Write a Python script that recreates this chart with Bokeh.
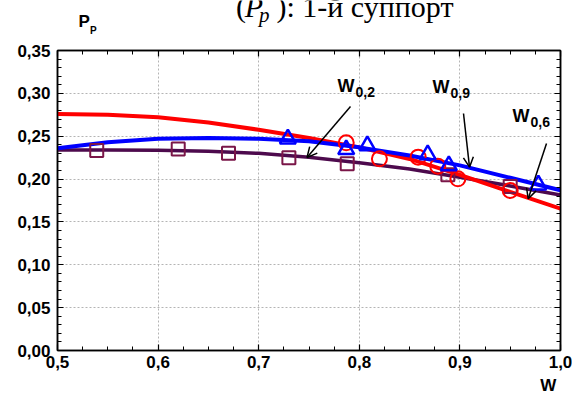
from bokeh.plotting import figure
from bokeh.models import FixedTicker, LinearAxis, Label, Arrow, OpenHead, Range1d
from bokeh.layouts import column
from bokeh.core.properties import value
from bokeh.embed import file_html
from bokeh.resources import INLINE

# ---- data ----
curve_x = [0.50, 0.55, 0.60, 0.65, 0.70, 0.75, 0.80, 0.85, 0.90, 0.95, 1.00]
red_curve = [0.276, 0.275, 0.272, 0.266, 0.2575, 0.248, 0.237, 0.2235, 0.205, 0.185, 0.1655]
blue_curve = [0.236, 0.243, 0.247, 0.248, 0.247, 0.244, 0.237, 0.2275, 0.216, 0.2015, 0.187]
purple_curve = [0.234, 0.234, 0.2335, 0.2325, 0.230, 0.2255, 0.219, 0.2118, 0.2022, 0.192, 0.1815]

circle_x = [0.787, 0.820, 0.8585, 0.878, 0.898, 0.950]
circle_y = [0.2423, 0.2236, 0.2256, 0.2151, 0.2003, 0.1867]
triangle_x = [0.729, 0.787, 0.808, 0.868, 0.889, 0.978]
triangle_y = [0.247, 0.2345, 0.239, 0.2284, 0.2158, 0.1933]
square_x = [0.539, 0.620, 0.670, 0.730, 0.788, 0.888, 0.950]
square_y = [0.2334, 0.235, 0.230, 0.225, 0.2178, 0.205, 0.1914]

x_ticks = [0.5, 0.6, 0.7, 0.8, 0.9, 1.0]
x_minor = [0.5 + 0.025 * i for i in range(21)]
y_ticks = [0.0, 0.05, 0.10, 0.15, 0.20, 0.25, 0.30, 0.35]
y_minor = [0.01 * i for i in range(36)]
x_tick_labels = ["0,5", "0,6", "0,7", "0,8", "0,9", "1,0"]
y_tick_labels = ["0,00", "0,05", "0,10", "0,15", "0,20", "0,25", "0,30", "0,35"]

title_parts = ["(", "P", "p", "): 1-й суппорт"]
series_labels = [("W", "0,2"), ("W", "0,9"), ("W", "0,6")]
y_title = ("P", "P")
x_title = "W"

W = 572
H_TOP, H_MAIN, H_BOT = 42, 332, 26
MID = 0.35  # em offset from baseline to the middle of the em box


def strip(height):
    f = figure(width=W, height=height, output_backend="svg", toolbar_location=None,
               title=None, x_range=Range1d(0, W), y_range=Range1d(height, 0),
               x_axis_location=None, y_axis_location=None,
               min_border_left=0, min_border_right=0, min_border_top=0, min_border_bottom=0)
    f.outline_line_color = None
    f.grid.visible = False
    f.background_fill_color = "white"
    f.border_fill_color = "white"
    return f


def put(fig, x, baseline, txt, font, size, style="normal"):
    fig.text(x=[x], y=[baseline - MID * size], text=[txt], text_font=value(font),
             text_font_style=style, text_font_size=f"{size}px", text_baseline="middle",
             text_color="black")


# ---- top strip: title and y-axis title (page pixel coordinates) ----
top = strip(H_TOP)
tb = 16.7
put(top, 203, tb, title_parts[0], "Liberation Serif", 30)
put(top, 213, tb, title_parts[1], "Liberation Serif", 30, "italic")
put(top, 229, tb + 5, title_parts[2], "Liberation Serif", 21, "italic")
put(top, 249, tb, title_parts[3], "Liberation Serif", 30)
put(top, 24, 27, y_title[0], "Liberation Sans", 17, "bold")
put(top, 37, 33, y_title[1], "Liberation Sans", 10, "bold")

# ---- bottom strip: x-axis title ----
bot = strip(H_BOT)
put(bot, 549, 17, x_title, "Liberation Sans", 17, "bold")

# ---- main plot ----
p = figure(width=W, height=H_MAIN, output_backend="svg", toolbar_location=None,
           title=None, x_range=Range1d(0.5, 1.0), y_range=Range1d(0.0, 0.35),
           x_axis_location=None, y_axis_location=None,
           min_border_left=57, min_border_right=12, min_border_top=8, min_border_bottom=24)
p.background_fill_color = "white"
p.border_fill_color = "white"
p.outline_line_color = "black"
p.outline_line_width = 1.5

# page geometry of the frame (for placing annotations)
PL, PR, PT, PB = 57, 560, 50, 350


def dx(px):  # page x -> data x
    return 0.5 + (px - PL) * 0.5 / (PR - PL)


def dy(py):  # page y -> data y
    return (PB - py) * 0.35 / (PB - PT)


xt = FixedTicker(ticks=x_ticks, minor_ticks=x_minor)
yt = FixedTicker(ticks=y_ticks, minor_ticks=y_minor)


def style_axis(ax, labels, ticks, show):
    ax.axis_line_color = "black"
    ax.axis_line_width = 1.5
    ax.major_tick_in = 6
    ax.major_tick_out = 0
    ax.minor_tick_in = 4
    ax.minor_tick_out = 0
    ax.major_tick_line_color = "black"
    ax.minor_tick_line_color = "black"
    ax.major_tick_line_width = 1.2
    ax.minor_tick_line_width = 1
    if show:
        ax.major_label_overrides = {t: l for t, l in zip(ticks, labels)}
        ax.major_label_text_font = "Liberation Sans"
        ax.major_label_text_font_style = "bold"
        ax.major_label_text_font_size = "17px"
        ax.major_label_text_color = "black"
    else:
        ax.major_label_overrides = {t: "" for t in ticks}
        ax.major_label_text_font_size = "1px"
        ax.major_label_standoff = 0


xb = LinearAxis(ticker=xt)
style_axis(xb, x_tick_labels, x_ticks, True)
xb.major_label_standoff = 5
p.add_layout(xb, "below")
xa = LinearAxis(ticker=xt)
style_axis(xa, x_tick_labels, x_ticks, False)
p.add_layout(xa, "above")
yl = LinearAxis(ticker=yt)
style_axis(yl, y_tick_labels, y_ticks, True)
yl.major_label_standoff = 7
p.add_layout(yl, "left")
yr = LinearAxis(ticker=yt)
style_axis(yr, y_tick_labels, y_ticks, False)
p.add_layout(yr, "right")

p.xgrid.ticker = xt
p.ygrid.ticker = yt
for g in (p.xgrid, p.ygrid):
    g.grid_line_color = "#b4b4b4"
    g.grid_line_dash = "2 2"
    g.grid_line_width = 1

# curves
p.line(curve_x, purple_curve, line_color="#4d0a4d", line_width=3.5)
p.line(curve_x, red_curve, line_color="#ff0000", line_width=4)
p.line(curve_x, blue_curve, line_color="#0000ff", line_width=4)

# markers
p.scatter(square_x, square_y, marker="square", size=13, fill_color=None,
          line_color="#7a1648", line_width=2)
p.scatter(circle_x, circle_y, marker="circle", size=15, fill_color=None,
          line_color="#ff0000", line_width=2)
p.scatter(triangle_x, triangle_y, marker="triangle", size=16, fill_color=None,
          line_color="#0000ff", line_width=2.5)

# arrows (page pixel positions)
arrows = [((350, 106), (306.5, 157)),
          ((463, 113), (469, 166.7)),
          ((546, 143), (527.7, 198.3))]
for (sx, sy), (ex, ey) in arrows:
    p.add_layout(Arrow(end=OpenHead(size=10, line_width=1.5, line_color="black"),
                       x_start=dx(sx), y_start=dy(sy), x_end=dx(ex), y_end=dy(ey),
                       line_color="black", line_width=1.5))

# series labels W_{0,x} (page pixel positions of main text baseline-left)
label_pos = [(337, 92), (432, 93), (512, 122)]
for (main, sub), (lx, ly) in zip(series_labels, label_pos):
    p.add_layout(Label(x=dx(lx), y=dy(ly - MID * 18), text=main, text_font="Liberation Sans",
                       text_font_style="bold", text_font_size="18px",
                       text_baseline="middle", text_color="black"))
    p.add_layout(Label(x=dx(lx + 18), y=dy(ly + 4 - MID * 14), text=sub,
                       text_font="Liberation Sans", text_font_style="bold",
                       text_font_size="14px", text_baseline="middle", text_color="black"))

layout = column(top, p, bot, spacing=0)
open("out.html", "w").write(file_html(layout, INLINE))
